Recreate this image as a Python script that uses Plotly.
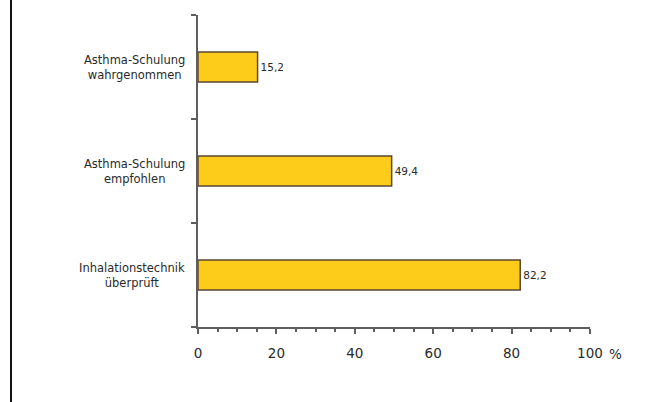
import plotly.graph_objects as go

categories = ["Inhalationstechnik<br>überprüft", "Asthma-Schulung<br>empfohlen", "Asthma-Schulung<br>wahrgenommen"]
values = [82.2, 49.4, 15.2]
value_labels = ["82,2", "49,4", "15,2"]
x_ticks = [0, 20, 40, 60, 80, 100]
x_ticktext = ["0", "20", "40", "60", "80", "100"]

axis_color = "#5e5e5e"
text_color = "#2a2a2a"
font_family = "DejaVu Sans"

fig = go.Figure()
fig.add_trace(go.Bar(
    y=categories, x=values, orientation="h",
    width=0.29,
    marker=dict(color="#FDCB1A", line=dict(color="#5a4830", width=1.5)),
    text=value_labels, textposition="outside", cliponaxis=False,
    textfont=dict(family=font_family, size=10.5, color=text_color),
    hoverinfo="skip",
))

annotations = []
for c in categories:
    annotations.append(dict(
        x=0, xref="paper", y=c, yref="y", text=c, showarrow=False,
        xanchor="right", yanchor="middle", align="center", xshift=-11,
        font=dict(family=font_family, size=11.5, color=text_color),
    ))
annotations.append(dict(
    x=100, xref="x", y=0, yref="paper", text="%", showarrow=False,
    xanchor="left", yanchor="middle", xshift=17, yshift=-27,
    font=dict(family=font_family, size=13.5, color=text_color),
))

fig.update_layout(
    width=654, height=402,
    margin=dict(l=198, r=64, t=15, b=75),
    paper_bgcolor="white", plot_bgcolor="white",
    showlegend=False,
    annotations=annotations,
    xaxis=dict(
        range=[0, 100], tickvals=x_ticks, ticktext=x_ticktext,
        showgrid=False, zeroline=False,
        showline=True, linecolor=axis_color, linewidth=2,
        ticks="outside", ticklen=5, tickwidth=2, tickcolor=axis_color,
        minor=dict(dtick=5, ticks="outside", ticklen=3, tickwidth=1.5, tickcolor=axis_color, showgrid=False),
        tickfont=dict(family=font_family, size=13.5, color=text_color),
        ticklabelstandoff=8,
        fixedrange=True,
    ),
    yaxis=dict(
        type="category", categoryorder="array", categoryarray=categories,
        range=[-0.5, 2.5],
        showgrid=False, zeroline=False,
        showline=True, linecolor=axis_color, linewidth=2,
        ticks="outside", tickson="boundaries", ticklen=5, tickwidth=2, tickcolor=axis_color,
        showticklabels=False,
        fixedrange=True,
    ),
    shapes=[dict(
        type="line", xref="paper", yref="paper",
        x0=(11 - 198) / 392, x1=(11 - 198) / 392, y0=-75 / 312, y1=1 + 15 / 312,
        line=dict(color="#111111", width=2),
    )],
)

fig.write_html("out.html")
